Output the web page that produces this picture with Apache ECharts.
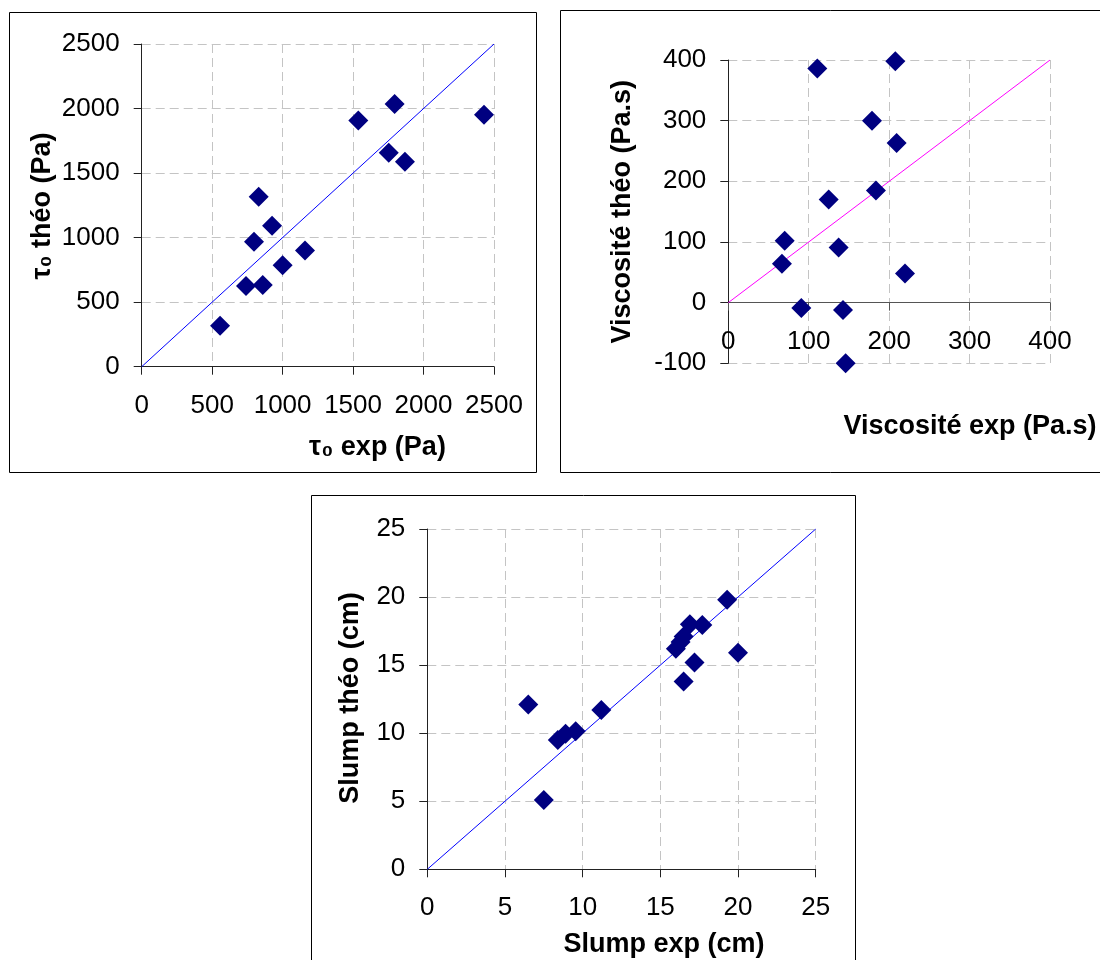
<!DOCTYPE html>
<html>
<head>
<meta charset="utf-8">
<script src="https://cdn.jsdelivr.net/npm/echarts@6/dist/echarts.min.js"></script>
<style>
html,body{margin:0;padding:0;background:#fff;}
#c{width:1100px;height:960px;}
</style>
</head>
<body>
<div id="c"></div>
<script>
// ---- data ----
const tauExp  = [556, 740, 859, 797, 830, 925, 1000, 1159, 1537, 1753, 1795, 1868, 2429];
const tauTheo = [318, 625, 633, 968, 1317, 1092, 786, 900, 1908, 1657, 2035, 1587, 1952];
const tauLine = [0, 2500];
const tauTicks = {min: 0, max: 2500, interval: 500};

const viscExp  = [110.7, 207.7, 178.7, 209.3, 183.6, 124.8, 70.1, 66.7, 137.2, 219.7, 90.8, 142.6, 145.9];
const viscTheo = [386, 398, 300, 263, 185, 170, 102, 64, 91, 48, -9, -12, -100];
const viscLine = [0, 400];
const viscXTicks = {min: 0, max: 400, interval: 100};
const viscYTicks = {min: -100, max: 400, interval: 100};

const slumpExp  = [6.5, 7.5, 8.4, 8.9, 9.55, 11.2, 16.0, 16.3, 16.5, 16.9, 17.7, 19.3, 16.5, 17.2, 20.0];
const slumpTheo = [12.1, 5.1, 9.5, 9.95, 10.15, 11.7, 16.2, 16.7, 17.1, 18.0, 17.95, 19.8, 13.8, 15.2, 15.9];
const slumpLine = [0, 25];
const slumpTicks = {min: 0, max: 25, interval: 5};

const titles = {
  tauX: 'τ₀ exp (Pa)', tauY: 'τ₀ théo (Pa)',
  viscX: 'Viscosité exp (Pa.s)', viscY: 'Viscosité théo (Pa.s)',
  slumpX: 'Slump exp (cm)', slumpY: 'Slump théo (cm)'
};

// ---- styling ----
const FONT = "'Liberation Sans', Arial, sans-serif";
const LABEL_SIZE = 26;
const TITLE_FONT = "bold 27px 'Liberation Sans', Arial, sans-serif";
const gridLine = {show: true, lineStyle: {color: '#c4c4c4', width: 1, type: [9, 5]}};

function pairs(xs, ys) { return xs.map((x, i) => [x, ys[i]]); }
function fmt(v) { return String(v); }

function xAxis(gi, t, offset, lineColor) {
  return {
    type: 'value', gridIndex: gi, min: t.min, max: t.max, interval: t.interval,
    offset: offset || 0,
    axisLine: {show: true, onZero: false, lineStyle: {color: lineColor || '#222', width: 1}},
    axisTick: {show: true, length: 8, lineStyle: {color: lineColor || '#222'}},
    axisLabel: {margin: 26, formatter: fmt, fontFamily: FONT, fontSize: LABEL_SIZE, color: '#000', showMinLabel: true, showMaxLabel: true, hideOverlap: false},
    splitLine: gridLine
  };
}
function yAxis(gi, t) {
  return {
    type: 'value', gridIndex: gi, min: t.min, max: t.max, interval: t.interval,
    axisLine: {show: true, onZero: false, lineStyle: {color: '#222', width: 1}},
    axisTick: {show: true, length: 8, lineStyle: {color: '#222'}},
    axisLabel: {margin: 22, formatter: fmt, fontFamily: FONT, fontSize: LABEL_SIZE, color: '#000', showMinLabel: true, showMaxLabel: true, hideOverlap: false},
    splitLine: gridLine
  };
}
function scatter(gi, xs, ys) {
  return {
    type: 'scatter', xAxisIndex: gi, yAxisIndex: gi, data: pairs(xs, ys),
    symbol: 'diamond', symbolSize: 20, itemStyle: {color: '#000080', opacity: 1}, z: 5, silent: true
  };
}
function trend(gi, ends, color) {
  return {
    type: 'line', xAxisIndex: gi, yAxisIndex: gi, data: pairs(ends, ends),
    symbol: 'none', lineStyle: {color: color, width: 1}, z: 3, silent: true, animation: false
  };
}
function title(text, x, y, rot) {
  return {
    type: 'text', x: x, y: y, rotation: rot || 0, z: 10,
    style: {text: text, x: 0, y: 0, font: TITLE_FONT, fill: '#000',
            textAlign: 'center', textVerticalAlign: 'middle', align: 'center', verticalAlign: 'middle'}
  };
}
function box(x, y, w, h) {
  return {type: 'rect', shape: {x: x, y: y, width: w, height: h}, style: {fill: 'none', stroke: '#000', lineWidth: 1}, z: 1};
}

// grid 2 geometry: value 0 of y sits above the grid bottom; move the x axis there
const g2 = {left: 728.3, top: 60, width: 321.7, height: 303.3};
const zeroShift = -g2.height * (0 - viscYTicks.min) / (viscYTicks.max - viscYTicks.min);

const chart = echarts.init(document.getElementById('c'), null, {renderer: 'canvas'});
chart.setOption({
  animation: false,
  backgroundColor: '#fff',
  grid: [
    {left: 141.7, top: 44, width: 352.3, height: 322.7},
    g2,
    {left: 427.3, top: 529, width: 388.4, height: 340.3}
  ],
  xAxis: [xAxis(0, tauTicks), xAxis(1, viscXTicks, zeroShift, '#555'), xAxis(2, slumpTicks)],
  yAxis: [yAxis(0, tauTicks), yAxis(1, viscYTicks), yAxis(2, slumpTicks)],
  series: [
    trend(0, tauLine, '#0000ff'), scatter(0, tauExp, tauTheo),
    trend(1, viscLine, '#ff00ff'), scatter(1, viscExp, viscTheo),
    trend(2, slumpLine, '#0000ff'), scatter(2, slumpExp, slumpTheo)
  ],
  graphic: [
    box(9.5, 12.5, 527, 460),
    box(560.5, 10.5, 600, 462),
    box(311.5, 495.5, 544, 500),
    title(titles.tauY, 43, 206, Math.PI / 2),
    title(titles.tauX, 377.5, 448),
    title(titles.viscY, 622.5, 211.7, Math.PI / 2),
    title(titles.viscX, 970, 426.7),
    title(titles.slumpY, 350.5, 698, Math.PI / 2),
    title(titles.slumpX, 664, 945)
  ]
});
</script>
</body>
</html>
